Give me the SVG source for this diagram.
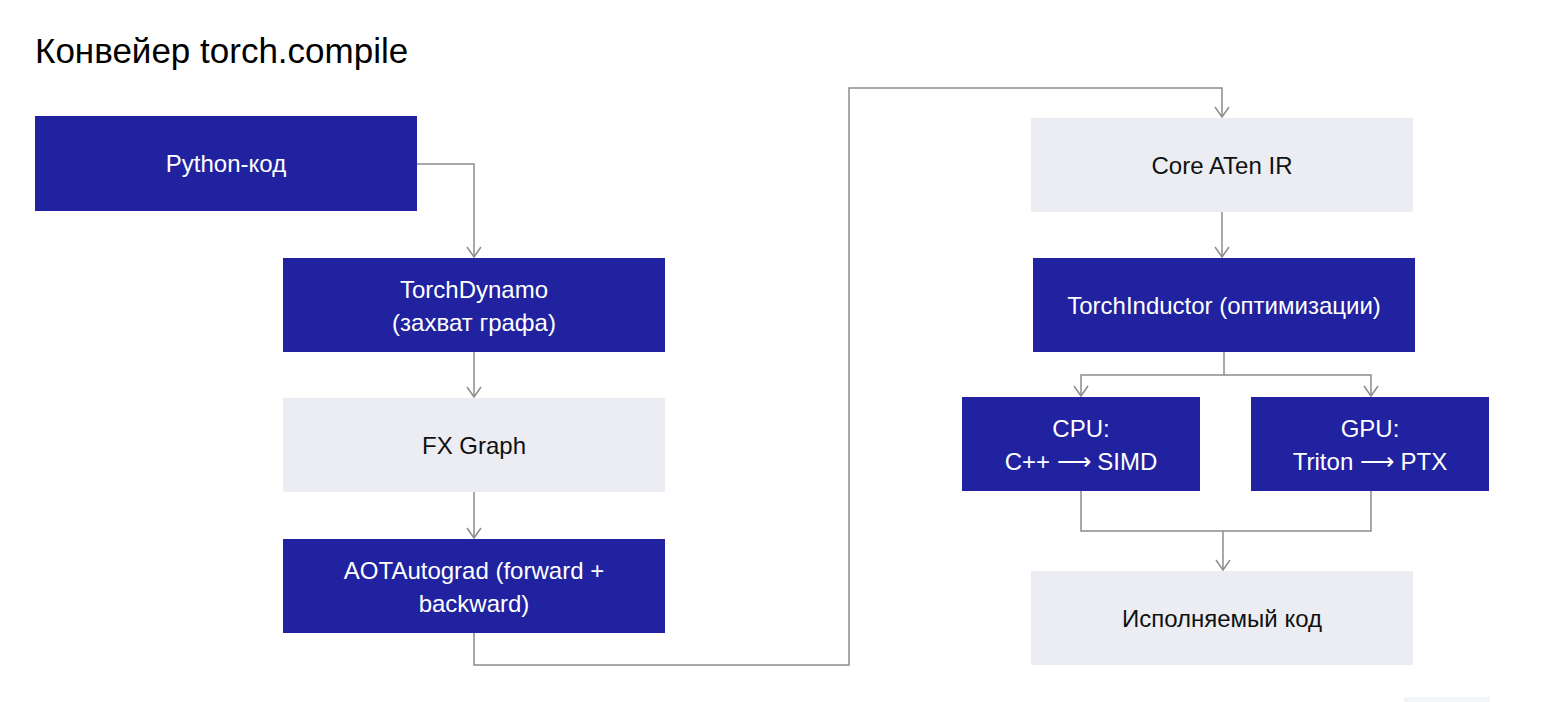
<svg xmlns="http://www.w3.org/2000/svg" width="1560" height="702" viewBox="0 0 1560 702">
<style>
.dk{fill:#2022a0}
.lt{fill:#ebedf2}
.t{font-family:"Liberation Sans",Arial,sans-serif;font-size:24px;text-anchor:middle}
.tw{fill:#ffffff}
.tb{fill:#111111}
.c{fill:none;stroke:#8c8c8c;stroke-width:1.5}
</style>
<defs>
<marker id="ah" markerWidth="12" markerHeight="16" refX="11" refY="8" orient="auto" markerUnits="userSpaceOnUse" viewBox="0 0 12 16">
<path d="M1,1 L11,8 L1,15" fill="none" stroke="#8c8c8c" stroke-width="1.5"/>
</marker>
</defs>
<rect width="1560" height="702" fill="#ffffff"/>
<text x="35" y="63" font-family="'Liberation Sans',Arial,sans-serif" font-size="35" fill="#000">Конвейер torch.compile</text>
<g id="connectors">
<path class="c" d="M417,164 H474 V257" marker-end="url(#ah)"/>
<path class="c" d="M474,352 V397" marker-end="url(#ah)"/>
<path class="c" d="M474,492 V538" marker-end="url(#ah)"/>
<path class="c" d="M474,633 V665 H849 V88 H1222 V117" marker-end="url(#ah)"/>
<path class="c" d="M1222,212 V257" marker-end="url(#ah)"/>
<path class="c" d="M1224,352 V375 H1081 V396" marker-end="url(#ah)"/>
<path class="c" d="M1224,375 H1371 V396" marker-end="url(#ah)"/>
<path class="c" d="M1081,491 V531 H1371 V491"/>
<path class="c" d="M1223,531 V570" marker-end="url(#ah)"/>
</g>
<g id="python">
<rect class="dk" x="35" y="116" width="382" height="95"/>
<text class="t tw" x="226" y="172">Python-код</text>
</g>
<g id="dynamo">
<rect class="dk" x="283" y="258" width="382" height="94"/>
<text class="t tw" x="474" y="298">TorchDynamo</text>
<text class="t tw" x="474" y="331">(захват графа)</text>
</g>
<g id="fx">
<rect class="lt" x="283" y="398" width="382" height="94"/>
<text class="t tb" x="474" y="454">FX Graph</text>
</g>
<g id="aot">
<rect class="dk" x="283" y="539" width="382" height="94"/>
<text class="t tw" x="474" y="579">AOTAutograd (forward +</text>
<text class="t tw" x="474" y="612">backward)</text>
</g>
<g id="core">
<rect class="lt" x="1031" y="118" width="382" height="94"/>
<text class="t tb" x="1222" y="174">Core ATen IR</text>
</g>
<g id="inductor">
<rect class="dk" x="1033" y="258" width="382" height="94"/>
<text class="t tw" x="1224" y="314">TorchInductor (оптимизации)</text>
</g>
<g id="cpu">
<rect class="dk" x="962" y="397" width="238" height="94"/>
<text class="t tw" x="1081" y="437">CPU:</text>
<text class="t tw" x="1081" y="470">C++ ⟶ SIMD</text>
</g>
<g id="gpu">
<rect class="dk" x="1251" y="397" width="238" height="94"/>
<text class="t tw" x="1370" y="437">GPU:</text>
<text class="t tw" x="1370" y="470">Triton ⟶ PTX</text>
</g>
<g id="exec">
<rect class="lt" x="1031" y="571" width="382" height="94"/>
<text class="t tb" x="1222" y="627">Исполняемый код</text>
</g>
<rect x="1404" y="697" width="86" height="5" fill="#f3f5f8"/>
</svg>
